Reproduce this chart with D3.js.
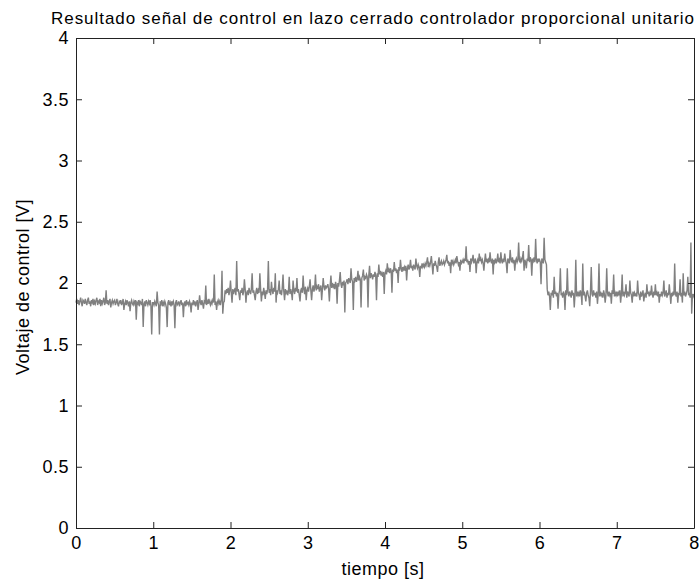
<!DOCTYPE html>
<html lang="es">
<head>
  <meta charset="UTF-8">
  <title>Señal de control</title>
  <script src="https://d3js.org/d3.v7.min.js"></script>
  <style>
    body { margin: 0; background: #fff; }
    svg text { font-family: 'Liberation Sans', Arial, sans-serif; fill: #000; letter-spacing: 0.5px; }
    .axis path, .axis line { stroke: #222; }
  </style>
</head>
<body>
<div id="chart"></div>
<script>
  // muestreo cada 0.01 s, de 0 a 8 s (una fila = 0.25 s)
  var DT = 0.01;
  var xTicks = [0, 1, 2, 3, 4, 5, 6, 7, 8];
  var yTicks = [0, 0.5, 1, 1.5, 2, 2.5, 3, 3.5, 4];
  var voltaje = [
    1.84,1.87,1.83,1.86,1.82,1.85,1.88,1.84,1.81,1.86,1.85,1.83,1.87,1.84,1.82,1.86,1.88,1.83,1.85,1.81,1.86,1.84,1.87,1.82,1.85,
    1.83,1.86,1.88,1.82,1.85,1.84,1.87,1.81,1.86,1.83,1.85,1.88,1.82,1.84,1.94,1.83,1.86,1.82,1.85,1.87,1.80,1.84,1.86,1.83,1.85,
    1.86,1.82,1.84,1.87,1.83,1.81,1.85,1.84,1.86,1.82,1.84,1.87,1.78,1.83,1.85,1.82,1.86,1.84,1.81,1.85,1.77,1.84,1.86,1.83,1.82,
    1.85,1.83,1.86,1.70,1.84,1.83,1.86,1.81,1.85,1.84,1.82,1.87,1.64,1.83,1.85,1.81,1.86,1.84,1.82,1.85,1.83,1.86,1.81,1.58,1.84,
    1.84,1.82,1.85,1.83,1.81,1.93,1.84,1.82,1.58,1.85,1.83,1.86,1.81,1.84,1.82,1.85,1.83,1.80,1.64,1.84,1.86,1.82,1.84,1.81,1.85,
    1.83,1.85,1.82,1.63,1.84,1.86,1.82,1.83,1.85,1.81,1.84,1.86,1.82,1.84,1.72,1.83,1.85,1.81,1.86,1.83,1.84,1.82,1.85,1.83,1.76,
    1.84,1.82,1.86,1.83,1.85,1.81,1.84,1.86,1.78,1.83,1.90,1.84,1.82,1.86,1.83,1.79,1.85,1.84,1.98,1.82,1.85,1.83,1.87,1.84,1.82,
    1.85,1.83,1.86,1.84,2.07,1.82,1.85,1.78,1.84,1.86,1.83,1.85,1.82,1.86,2.10,1.75,1.84,1.85,1.94,1.91,1.95,1.92,1.96,1.90,1.94,
    2.02,1.92,1.84,1.95,1.91,1.94,1.96,1.90,2.18,1.93,1.95,1.91,1.86,1.94,1.92,1.96,1.90,1.93,2.03,1.95,1.84,1.92,1.94,1.90,1.96,
    1.93,1.91,1.95,2.08,1.92,1.94,1.90,1.86,1.93,1.96,1.91,1.94,1.92,2.08,1.95,1.85,1.93,1.90,1.96,1.92,1.87,1.94,1.91,1.95,2.18,
    1.92,1.95,1.90,2.01,1.94,1.91,1.96,1.93,2.08,1.84,1.94,1.92,1.95,2.02,1.91,1.94,1.90,1.96,2.07,1.93,1.86,1.95,1.92,1.94,1.90,
    1.93,2.05,1.91,1.95,1.92,1.86,2.02,1.94,1.91,1.96,1.93,2.04,1.92,1.95,1.90,1.85,1.94,1.96,1.92,2.06,1.95,1.91,1.97,1.86,1.94,
    1.96,1.93,1.97,2.03,1.94,1.86,1.95,1.98,1.93,1.96,2.07,1.94,1.97,1.95,1.99,1.93,1.96,1.98,1.86,1.95,2.04,1.97,1.94,1.98,1.96,
    1.97,1.99,1.95,1.85,1.98,2.06,1.96,2.00,1.97,1.99,1.95,2.01,1.98,1.83,2.00,1.97,2.02,2.09,1.99,1.96,2.01,1.98,2.02,1.76,2.00,
    2.01,2.03,1.99,2.04,2.02,2.00,2.12,2.03,2.01,1.78,2.04,2.02,2.05,2.01,2.03,2.10,2.02,2.05,2.03,1.80,2.04,2.06,2.11,2.02,2.05,
    2.04,2.07,2.05,1.80,2.06,2.14,2.04,2.08,2.06,2.03,2.07,2.05,2.09,2.06,1.86,2.08,2.05,2.15,2.07,2.10,2.06,2.08,2.05,2.09,1.91,
    2.08,2.10,2.07,2.16,2.09,2.11,2.08,2.12,2.10,1.92,2.11,2.09,2.17,2.10,2.12,2.08,2.11,2.00,2.13,2.10,2.19,2.12,2.09,2.13,2.11,
    2.13,2.10,2.14,2.02,2.12,2.15,2.11,2.13,2.19,2.12,2.14,2.10,2.15,2.13,2.11,2.20,2.14,2.12,2.15,2.13,2.05,2.14,2.12,2.16,2.13,
    2.15,2.13,2.16,2.14,2.17,2.21,2.13,2.16,2.14,2.17,2.22,2.15,2.07,2.16,2.14,2.18,2.15,2.13,2.09,2.17,2.21,2.14,2.16,2.18,2.15,
    2.16,2.18,2.15,2.17,2.19,2.23,2.16,2.18,2.14,2.17,2.08,2.19,2.16,2.18,2.15,2.17,2.19,2.16,2.22,2.18,2.15,2.17,2.10,2.19,2.16,
    2.17,2.19,2.16,2.20,2.18,2.30,2.17,2.19,2.15,2.18,2.09,2.20,2.17,2.19,2.23,2.16,2.18,2.20,2.08,2.17,2.19,2.16,2.24,2.18,2.20,
    2.17,2.19,2.16,2.10,2.18,2.24,2.17,2.20,2.16,2.19,2.17,2.25,2.18,2.16,2.20,2.07,2.19,2.17,2.20,2.16,2.18,2.24,2.17,2.19,2.16,
    2.25,2.18,2.16,2.20,2.17,2.24,2.19,2.16,2.08,2.20,2.18,2.16,2.27,2.19,2.17,2.21,2.16,2.19,2.10,2.18,2.20,2.17,2.19,2.33,2.18,
    2.17,2.20,2.18,2.21,2.26,2.10,2.19,2.17,2.12,2.20,2.18,2.31,2.17,2.21,2.19,2.06,2.20,2.18,2.21,2.17,2.36,2.19,2.16,2.20,2.18,
    2.19,2.17,1.99,2.20,2.18,2.16,2.37,2.19,2.17,2.15,1.95,1.90,1.93,1.89,1.78,1.92,1.90,1.94,1.88,2.05,1.91,1.93,1.89,1.92,1.79,
    1.91,1.94,2.12,1.90,1.92,1.88,1.93,1.91,1.78,1.94,1.90,2.12,1.92,1.89,1.93,1.91,1.88,1.94,1.90,1.92,1.80,1.91,2.19,1.89,1.93,
    1.90,1.92,1.89,1.94,1.91,1.82,2.16,1.90,1.93,1.89,1.85,1.92,1.94,1.90,1.88,1.81,1.93,2.13,1.91,1.89,1.94,1.90,1.92,1.88,1.93,
    1.83,1.91,2.16,1.89,1.93,1.90,1.92,1.88,1.94,1.91,1.84,1.90,2.12,1.92,1.89,1.93,1.90,1.92,1.83,1.94,1.91,2.07,1.89,1.92,1.90,
    1.93,1.89,1.92,1.90,1.94,1.84,1.91,2.07,1.89,1.93,1.90,1.92,1.99,1.88,1.93,1.91,1.89,2.02,1.92,1.90,1.84,1.93,1.89,1.92,1.90,
    1.91,1.89,2.02,1.92,1.90,1.86,1.93,1.89,1.91,1.94,1.85,1.90,1.92,1.88,1.99,1.91,1.93,1.89,1.92,1.90,1.98,1.91,1.88,1.93,1.90,
    1.99,1.90,1.92,1.89,1.93,1.84,1.91,1.89,1.93,1.90,1.92,2.02,1.89,1.91,1.94,1.88,1.92,1.90,1.99,1.91,1.83,1.92,1.89,1.93,1.90,
    2.16,1.91,1.89,1.93,1.84,1.92,1.90,2.03,1.89,1.92,1.84,2.08,1.90,1.93,1.89,1.91,1.94,2.05,1.90,1.92,1.88,2.33,1.75,1.91,1.89,
    1.91
  ];

  var W = 699, H = 581,
    MARGIN = {top: 38, right: 5, bottom: 53, left: 76},
    WIDTH = W - MARGIN.left - MARGIN.right,
    HEIGHT = H - MARGIN.top - MARGIN.bottom;

  var svg = d3.select('#chart').append('svg')
    .attr('width', W)
    .attr('height', H);

  var g = svg.append('g')
    .attr('transform', 'translate(' + MARGIN.left + ',' + MARGIN.top + ')');

  var x = d3.scaleLinear().domain([0, 8]).range([0, WIDTH]);
  var y = d3.scaleLinear().domain([0, 4]).range([HEIGHT, 0]);

  // señal
  var line = d3.line()
    .x(function (d, i) { return x(i * DT); })
    .y(function (d) { return y(d); });

  g.append('path')
    .datum(voltaje)
    .attr('fill', 'none')
    .attr('stroke', '#808080')
    .attr('stroke-width', 1.4)
    .attr('d', line);

  // ejes (caja con marcas hacia adentro)
  var fmt = d3.format('');
  g.append('g').attr('class', 'axis')
    .attr('transform', 'translate(0,' + HEIGHT + ')')
    .call(d3.axisBottom(x).tickValues(xTicks).tickFormat(fmt).tickSizeInner(-6).tickSizeOuter(0).tickPadding(8));
  g.append('g').attr('class', 'axis')
    .call(d3.axisLeft(y).tickValues(yTicks).tickFormat(fmt).tickSizeInner(-6).tickSizeOuter(0).tickPadding(7));
  g.append('g').attr('class', 'axis')
    .call(d3.axisTop(x).tickValues(xTicks).tickFormat('').tickSizeInner(-6).tickSizeOuter(0));
  g.append('g').attr('class', 'axis')
    .attr('transform', 'translate(' + WIDTH + ',0)')
    .call(d3.axisRight(y).tickValues(yTicks).tickFormat('').tickSizeInner(-6).tickSizeOuter(0));

  g.selectAll('.axis text')
    .style('font-size', '18px')
    .style('font-family', "'Liberation Sans', Arial, sans-serif")
    .attr('fill', '#000');

  // título y etiquetas
  svg.append('text')
    .attr('x', 373)
    .attr('y', 24)
    .attr('text-anchor', 'middle')
    .style('font-size', '17px')
    .style('letter-spacing', '0.95px')
    .text('Resultado señal de control en lazo cerrado controlador proporcional unitario');

  svg.append('text')
    .attr('x', MARGIN.left + WIDTH / 2 - 2)
    .attr('y', 575)
    .attr('text-anchor', 'middle')
    .style('font-size', '18px')
    .text('tiempo [s]');

  svg.append('text')
    .attr('transform', 'translate(29,' + (MARGIN.top + HEIGHT / 2 + 4) + ') rotate(-90)')
    .attr('text-anchor', 'middle')
    .style('font-size', '18px')
    .text('Voltaje de control [V]');
</script>
</body>
</html>
